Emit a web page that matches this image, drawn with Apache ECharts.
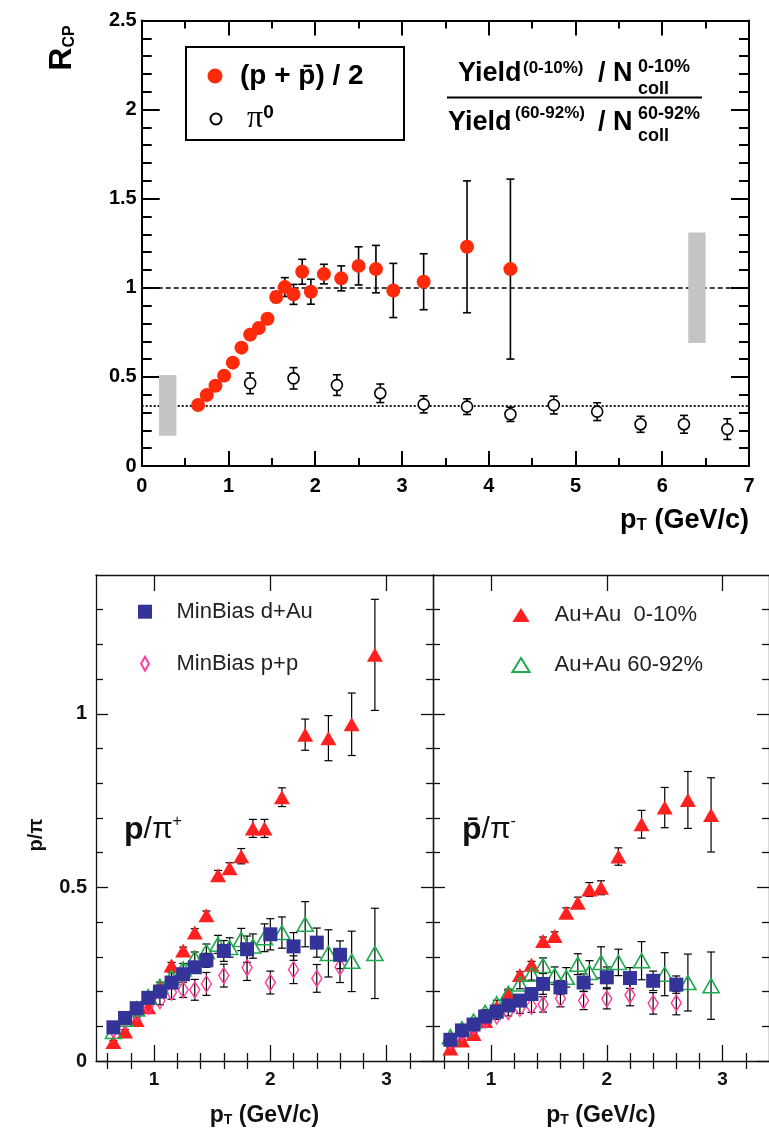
<!DOCTYPE html>
<html>
<head>
<meta charset="utf-8">
<title>R_CP and p/pi ratios</title>
<script src="https://cdn.jsdelivr.net/npm/echarts@6.0.0/dist/echarts.min.js"></script>
<style>
  html, body { margin: 0; padding: 0; background: #fff; }
  #chart { width: 769px; height: 1134px; }
</style>
</head>
<body>
<div id="chart"></div>
<script>
var FONT = 'Liberation Sans';

// ---- top panel: R_CP vs pT ----
var protonName = '(p + p\u0304) / 2';
var pionName = 'π0';
var protonPt  = [0.65, 0.75, 0.85, 0.95, 1.05, 1.15, 1.25, 1.35, 1.45, 1.55, 1.65, 1.75, 1.85, 1.95, 2.1, 2.3, 2.5, 2.7, 2.9, 3.25, 3.75, 4.25];
var protonRcp = [0.342, 0.398, 0.45, 0.507, 0.58, 0.664, 0.737, 0.774, 0.826, 0.948, 1.004, 0.963, 1.09, 0.978, 1.077, 1.053, 1.123, 1.105, 0.985, 1.034, 1.23, 1.105];
var protonErr = [0.01, 0.01, 0.01, 0.012, 0.014, 0.016, 0.018, 0.02, 0.022, 0.03, 0.053, 0.056, 0.07, 0.07, 0.055, 0.07, 0.107, 0.133, 0.152, 0.157, 0.37, 0.505];
var pionPt  = [1.25, 1.75, 2.25, 2.75, 3.25, 3.75, 4.25, 4.75, 5.25, 5.75, 6.25, 6.75];
var pionRcp = [0.464, 0.492, 0.454, 0.408, 0.346, 0.333, 0.29, 0.342, 0.305, 0.234, 0.234, 0.207];
var pionErr = [0.058, 0.06, 0.058, 0.052, 0.048, 0.044, 0.04, 0.05, 0.05, 0.045, 0.05, 0.058];
var collScaling = 1;      // dashed line
var partScaling = 0.34;   // dotted line
// systematic boxes: [xLow, xHigh, yLow, yHigh]
var sysBoxes = [[0.2, 0.4, 0.17, 0.51], [6.3, 6.5, 0.69, 1.31]];

// ---- bottom panels: p/pi ratios ----
var auPt  = [0.65, 0.75, 0.85, 0.95, 1.05, 1.15, 1.25, 1.35, 1.45, 1.55, 1.65, 1.75, 1.85, 1.95, 2.1, 2.3, 2.5, 2.7, 2.9];
var dAuPt = [0.65, 0.75, 0.85, 0.95, 1.05, 1.15, 1.25, 1.35, 1.45, 1.6, 1.8, 2.0, 2.2, 2.4, 2.6];

// p / pi+
var auCentPos    = [0.055, 0.085, 0.118, 0.155, 0.21, 0.275, 0.318, 0.37, 0.42, 0.535, 0.555, 0.59, 0.67, 0.67, 0.76, 0.94, 0.93, 0.97, 1.17];
var auCentPosErr = [0.004, 0.005, 0.006, 0.007, 0.008, 0.009, 0.01, 0.011, 0.012, 0.014, 0.016, 0.022, 0.026, 0.026, 0.027, 0.045, 0.065, 0.09, 0.16];
var auPeriPos    = [0.085, 0.12, 0.15, 0.185, 0.215, 0.24, 0.265, 0.296, 0.315, 0.336, 0.327, 0.35, 0.331, 0.355, 0.37, 0.394, 0.31, 0.287, 0.31];
var auPeriPosErr = [0.006, 0.008, 0.009, 0.01, 0.012, 0.014, 0.016, 0.018, 0.022, 0.026, 0.028, 0.032, 0.035, 0.04, 0.045, 0.065, 0.068, 0.087, 0.13];
var dAuPos    = [0.097, 0.124, 0.152, 0.182, 0.2, 0.226, 0.25, 0.27, 0.29, 0.317, 0.322, 0.365, 0.33, 0.341, 0.306];
var dAuPosErr = [0.005, 0.006, 0.007, 0.008, 0.009, 0.01, 0.012, 0.015, 0.02, 0.03, 0.038, 0.045, 0.04, 0.042, 0.04];
var ppPos    = [0.09, 0.115, 0.138, 0.158, 0.174, 0.198, 0.205, 0.205, 0.222, 0.246, 0.269, 0.226, 0.263, 0.238, 0.271];
var ppPosErr = [0.006, 0.007, 0.008, 0.01, 0.012, 0.02, 0.022, 0.03, 0.033, 0.033, 0.037, 0.033, 0.04, 0.04, 0.045];

// pbar / pi-
var auCentNeg    = [0.036, 0.059, 0.078, 0.115, 0.155, 0.195, 0.248, 0.277, 0.346, 0.36, 0.427, 0.456, 0.494, 0.499, 0.589, 0.682, 0.73, 0.752, 0.709];
var auCentNegErr = [0.003, 0.004, 0.005, 0.006, 0.007, 0.008, 0.009, 0.01, 0.011, 0.012, 0.014, 0.016, 0.02, 0.02, 0.025, 0.04, 0.058, 0.082, 0.107];
var auPeriNeg    = [0.07, 0.093, 0.115, 0.14, 0.165, 0.195, 0.222, 0.25, 0.275, 0.246, 0.241, 0.279, 0.255, 0.284, 0.284, 0.289, 0.25, 0.226, 0.217];
var auPeriNegErr = [0.005, 0.006, 0.007, 0.008, 0.01, 0.012, 0.014, 0.017, 0.022, 0.025, 0.028, 0.03, 0.034, 0.045, 0.038, 0.055, 0.062, 0.082, 0.097];
var dAuNeg    = [0.061, 0.088, 0.105, 0.128, 0.142, 0.16, 0.174, 0.193, 0.222, 0.212, 0.226, 0.241, 0.239, 0.231, 0.22];
var dAuNegErr = [0.004, 0.005, 0.006, 0.007, 0.008, 0.009, 0.01, 0.012, 0.03, 0.02, 0.025, 0.03, 0.03, 0.028, 0.025];
var ppNeg    = [0.058, 0.082, 0.1, 0.118, 0.13, 0.142, 0.152, 0.158, 0.163, 0.18, 0.174, 0.179, 0.19, 0.166, 0.167];
var ppNegErr = [0.005, 0.006, 0.007, 0.008, 0.01, 0.012, 0.015, 0.018, 0.022, 0.024, 0.026, 0.029, 0.031, 0.031, 0.034];

// tick positions for the bottom panels
var xMajorTicks = [1, 2, 3];
var xMinorTicks = [0.6, 0.8, 1.2, 1.4, 1.6, 1.8, 2.2, 2.4, 2.6, 2.8, 3.2];
var yMajorTicks = [0, 0.5, 1];
var yMinorTicks = [0.1, 0.2, 0.3, 0.4, 0.6, 0.7, 0.8, 0.9, 1.1, 1.2, 1.3];

var dAuName = 'MinBias d+Au';
var ppName = 'MinBias p+p';
var centName = 'Au+Au  0-10%';
var periName = 'Au+Au 60-92%';

var chart = echarts.init(document.getElementById('chart'));

function pairs(xs, ys) {
  return xs.map(function (x, i) { return [x, ys[i]]; });
}

// vertical error bars with caps
function errorSeries(xs, ys, es, xi, yi, cap, width) {
  return {
    type: 'custom', xAxisIndex: xi, yAxisIndex: yi, silent: true, z: 2,
    data: xs.map(function (x, i) { return [x, ys[i], es[i]]; }),
    encode: { x: 0, y: 1 },
    renderItem: function (params, api) {
      var x = api.value(0), y = api.value(1), e = api.value(2);
      var hi = api.coord([x, y + e]);
      var lo = api.coord([x, y - e]);
      var st = { stroke: '#000', lineWidth: width };
      return {
        type: 'group',
        children: [
          { type: 'line', shape: { x1: hi[0], y1: hi[1], x2: lo[0], y2: lo[1] }, style: st },
          { type: 'line', shape: { x1: hi[0] - cap, y1: hi[1], x2: hi[0] + cap, y2: hi[1] }, style: st },
          { type: 'line', shape: { x1: lo[0] - cap, y1: lo[1], x2: lo[0] + cap, y2: lo[1] }, style: st }
        ]
      };
    }
  };
}

function markers(name, xs, ys, xi, yi, symbol, size, style, z) {
  return {
    type: 'scatter', name: name, xAxisIndex: xi, yAxisIndex: yi,
    symbol: symbol, symbolSize: size, itemStyle: style, z: z,
    data: pairs(xs, ys)
  };
}

var black2 = { color: '#000', width: 2 };
var thin = { color: '#111', width: 1.3 };
var diamond = 'path://M5,0L10,9L5,18L0,9Z';
var squareIcon = 'path://M0,0L10,0L10,10L0,10Z';
var triIcon = 'path://M8,0L16,13L0,13Z';
var circleIcon = 'path://M10,0A10,10,0,1,1,9.99,0Z';

var styles = {
  proton: { color: '#ff2a0a', opacity: 1 },
  pion: { color: '#fff', borderColor: '#000', borderWidth: 1.6, opacity: 1 },
  dAu: { color: '#333399', opacity: 1 },
  pp: { color: 'rgba(255,255,255,0)', borderColor: '#ff3d9e', borderWidth: 1.5, opacity: 1 },
  cent: { color: '#ff2020', opacity: 1 },
  peri: { color: 'rgba(255,255,255,0)', borderColor: '#1faa50', borderWidth: 1.6, opacity: 1 }
};

// ---- axes ----
function topXAxis(pos, labels) {
  return {
    gridIndex: 0, type: 'value', min: 0, max: 7, interval: 1, position: pos,
    axisLine: { onZero: false, lineStyle: black2 },
    axisTick: { inside: true, length: 15, lineStyle: black2 },
    minorTick: { show: true, splitNumber: 2, length: 8, lineStyle: black2 },
    axisLabel: labels ? { margin: 10, fontSize: 20, fontWeight: 'bold', fontFamily: FONT, color: '#000' } : { show: false },
    splitLine: { show: false }
  };
}
function topYAxis(pos, labels) {
  return {
    gridIndex: 0, type: 'value', min: 0, max: 2.5, interval: 0.5, position: pos,
    axisLine: { onZero: false, lineStyle: black2 },
    axisTick: { inside: true, length: 18, lineStyle: black2 },
    minorTick: { show: true, splitNumber: 5, length: 10, lineStyle: black2 },
    axisLabel: labels ? { margin: 5, fontSize: 20, fontWeight: 'bold', fontFamily: FONT, color: '#000' } : { show: false },
    splitLine: { show: false }
  };
}
function ratioXAxes(g, pos, labels) {
  var major = {
    gridIndex: g, type: 'value', min: 0.5, max: 3.4, position: pos,
    axisLine: { onZero: false, lineStyle: thin },
    axisTick: { inside: true, length: 16, customValues: xMajorTicks, lineStyle: thin },
    axisLabel: labels ? { customValues: xMajorTicks, margin: 9, fontSize: 19, fontWeight: 'bold', fontFamily: FONT, color: '#111' } : { show: false },
    splitLine: { show: false }
  };
  if (labels) {
    major.name = '{p|p}{t|T}{p| (GeV/c)}';
    major.nameLocation = 'middle';
    major.nameGap = 43;
    major.nameTextStyle = {
      rich: {
        p: { fontSize: 23, fontWeight: 'bold', fontFamily: FONT, color: '#111' },
        t: { fontSize: 14, fontWeight: 'bold', fontFamily: FONT, color: '#111', verticalAlign: 'bottom' }
      }
    };
  }
  var minor = {
    gridIndex: g, type: 'value', min: 0.5, max: 3.4, position: pos,
    axisLine: { show: false },
    axisTick: { inside: true, length: 8, customValues: xMinorTicks, lineStyle: thin },
    axisLabel: { show: false },
    splitLine: { show: false }
  };
  return [major, minor];
}
function ratioYAxes(g, pos, labels) {
  var major = {
    gridIndex: g, type: 'value', min: 0, max: 1.4, position: pos,
    axisLine: { onZero: false, lineStyle: thin },
    axisTick: { inside: true, length: 12, customValues: yMajorTicks, lineStyle: thin },
    axisLabel: labels ? { customValues: yMajorTicks, margin: 9, fontSize: 20, fontWeight: 'bold', fontFamily: FONT, color: '#111' } : { show: false },
    splitLine: { show: false }
  };
  var minor = {
    gridIndex: g, type: 'value', min: 0, max: 1.4, position: pos,
    axisLine: { show: false },
    axisTick: { inside: true, length: 7, customValues: yMinorTicks, lineStyle: thin },
    axisLabel: { show: false },
    splitLine: { show: false }
  };
  return [major, minor];
}

var xMain = topXAxis('bottom', true);
xMain.name = '{p|p}{t|T}{p| (GeV/c)}';
xMain.nameLocation = 'end';
xMain.nameGap = 0;
xMain.nameTextStyle = {
  align: 'right', verticalAlign: 'top', padding: [41, 0, 0, 0],
  rich: {
    p: { fontSize: 27, fontWeight: 'bold', fontFamily: FONT, color: '#000' },
    t: { fontSize: 17, fontWeight: 'bold', fontFamily: FONT, color: '#000', verticalAlign: 'bottom' }
  }
};

var xAxes = [xMain, topXAxis('top', false)]
  .concat(ratioXAxes(1, 'bottom', true), ratioXAxes(1, 'top', false))
  .concat(ratioXAxes(2, 'bottom', true), ratioXAxes(2, 'top', false));
var yAxes = [topYAxis('left', true), topYAxis('right', false)]
  .concat(ratioYAxes(1, 'left', true), ratioYAxes(1, 'right', false))
  .concat(ratioYAxes(2, 'left', false), ratioYAxes(2, 'right', false));

// ---- series ----
var series = [
  {
    type: 'custom', name: 'sys', xAxisIndex: 0, yAxisIndex: 0, silent: true, z: 1,
    data: sysBoxes,
    encode: { x: [0, 1], y: [2, 3] },
    renderItem: function (params, api) {
      var a = api.coord([api.value(0), api.value(3)]);
      var b = api.coord([api.value(1), api.value(2)]);
      return { type: 'rect', shape: { x: a[0], y: a[1], width: b[0] - a[0], height: b[1] - a[1] }, style: { fill: '#c4c4c4' } };
    }
  },
  errorSeries(protonPt, protonRcp, protonErr, 0, 0, 4, 1.6),
  markers(protonName, protonPt, protonRcp, 0, 0, 'circle', 14, styles.proton, 4),
  errorSeries(pionPt, pionRcp, pionErr, 0, 0, 4, 1.6),
  {
    type: 'scatter', name: pionName, xAxisIndex: 0, yAxisIndex: 0,
    symbol: 'circle', symbolSize: 11, itemStyle: styles.pion, z: 4,
    data: pairs(pionPt, pionRcp),
    markLine: {
      silent: true, symbol: ['none', 'none'], label: { show: false }, z: 1,
      data: [
        { yAxis: collScaling, lineStyle: { color: '#000', width: 1.5, type: [5, 3] } },
        { yAxis: partScaling, lineStyle: { color: '#000', width: 1.8, type: [2, 2] } }
      ]
    }
  }
];

function ratioPanel(xi, yi, cent, centErr, peri, periErr, dau, dauErr, pp, ppErr) {
  return [
    errorSeries(auPt, cent, centErr, xi, yi, 4, 1.2),
    markers(centName, auPt, cent, xi, yi, 'triangle', [16, 14], styles.cent, 3),
    errorSeries(dAuPt, pp, ppErr, xi, yi, 4, 1.2),
    markers(ppName, dAuPt, pp, xi, yi, diamond, [10, 16], styles.pp, 4),
    errorSeries(auPt, peri, periErr, xi, yi, 4, 1.2),
    markers(periName, auPt, peri, xi, yi, 'triangle', [16, 14], styles.peri, 5),
    errorSeries(dAuPt, dau, dauErr, xi, yi, 4, 1.2),
    markers(dAuName, dAuPt, dau, xi, yi, 'rect', 14, styles.dAu, 6)
  ];
}
series = series
  .concat(ratioPanel(2, 2, auCentPos, auCentPosErr, auPeriPos, auPeriPosErr, dAuPos, dAuPosErr, ppPos, ppPosErr))
  .concat(ratioPanel(6, 6, auCentNeg, auCentNegErr, auPeriNeg, auPeriNegErr, dAuNeg, dAuNegErr, ppNeg, ppNegErr));

function label(x, y, text, size) {
  return {
    type: 'text', x: x, y: y,
    style: { text: text, fontSize: size, fontWeight: 'bold', fontFamily: FONT, fill: '#000', align: 'left', verticalAlign: 'middle' }
  };
}

var legendText = { fontSize: 22, fontFamily: FONT, color: '#222' };

chart.setOption({
  animation: false,
  backgroundColor: '#fff',
  grid: [
    { left: 141.7, top: 20.5, width: 607.3, height: 445.5 },
    { left: 96, top: 575, width: 337, height: 486 },
    { left: 433, top: 575, width: 337, height: 486 }
  ],
  xAxis: xAxes,
  yAxis: yAxes,
  legend: [
    {
      data: [{ name: protonName, icon: circleIcon }], left: 207.5, top: 62, padding: 0, selectedMode: false,
      itemWidth: 40, itemHeight: 15,
      textStyle: { fontSize: 28, fontWeight: 'bold', fontFamily: FONT, color: '#000' }
    },
    {
      data: [{ name: pionName, icon: circleIcon }], left: 209.5, top: 103, padding: 0, selectedMode: false,
      itemWidth: 52, itemHeight: 11,
      formatter: function () { return '{g|π}{s|0}'; },
      textStyle: {
        rich: {
          g: { fontSize: 32, fontFamily: 'Liberation Serif', color: '#000' },
          s: { fontSize: 19, fontWeight: 'bold', fontFamily: FONT, color: '#000', verticalAlign: 'top' }
        }
      }
    },
    {
      data: [{ name: dAuName, icon: squareIcon }, { name: ppName, icon: diamond }], left: 138, top: 600.7, padding: 0,
      orient: 'vertical', itemGap: 30, itemWidth: 53, itemHeight: 14, selectedMode: false,
      textStyle: legendText
    },
    {
      data: [{ name: centName, icon: triIcon }, { name: periName, icon: triIcon }], left: 511.4, top: 604, padding: 0,
      orient: 'vertical', itemGap: 28, itemWidth: 57, itemHeight: 14, selectedMode: false,
      textStyle: legendText
    }
  ],
  graphic: [
    { type: 'rect', shape: { x: 186, y: 47, width: 218, height: 93 }, style: { fill: null, stroke: '#000', lineWidth: 2 }, z: 10 },
    {
      type: 'text', x: 62, y: 48, rotation: Math.PI / 2,
      style: {
        text: '{r|R}{s|CP}', align: 'center', verticalAlign: 'middle',
        rich: {
          r: { fontSize: 32, fontWeight: 'bold', fontFamily: FONT, fill: '#000' },
          s: { fontSize: 16, fontWeight: 'bold', fontFamily: FONT, fill: '#000', verticalAlign: 'bottom' }
        }
      }
    },
    label(458, 74, 'Yield', 27),
    label(523, 68, '(0-10%)', 17),
    label(598, 74, '/ N', 27),
    label(638, 67, '0-10%', 18),
    label(638, 89, 'coll', 18),
    { type: 'line', shape: { x1: 447, y1: 97.5, x2: 702, y2: 97.5 }, style: { stroke: '#000', lineWidth: 2 } },
    label(448, 123, 'Yield', 27),
    label(515, 113, '(60-92%)', 17),
    label(598, 123, '/ N', 27),
    label(638, 114, '60-92%', 18),
    label(638, 136, 'coll', 18),
    {
      type: 'text', x: 36, y: 835, rotation: Math.PI / 2,
      style: { text: 'p/π', align: 'center', verticalAlign: 'middle', fontSize: 20, fontWeight: 'bold', fontFamily: FONT, fill: '#111' }
    },
    {
      type: 'text', x: 124, y: 830,
      style: {
        text: '{p|p}{q|/π}{s|+}', align: 'left', verticalAlign: 'middle',
        rich: {
          p: { fontSize: 32, fontWeight: 'bold', fontFamily: FONT, fill: '#111' },
          q: { fontSize: 30, fontFamily: FONT, fill: '#111' },
          s: { fontSize: 16, fontFamily: FONT, fill: '#111', verticalAlign: 'top' }
        }
      }
    },
    {
      type: 'text', x: 462, y: 830,
      style: {
        text: '{p|p\u0304}{q|/π}{s|-}', align: 'left', verticalAlign: 'middle',
        rich: {
          p: { fontSize: 32, fontWeight: 'bold', fontFamily: FONT, fill: '#111' },
          q: { fontSize: 30, fontFamily: FONT, fill: '#111' },
          s: { fontSize: 16, fontFamily: FONT, fill: '#111', verticalAlign: 'top' }
        }
      }
    }
  ],
  series: series
});
</script>
</body>
</html>
